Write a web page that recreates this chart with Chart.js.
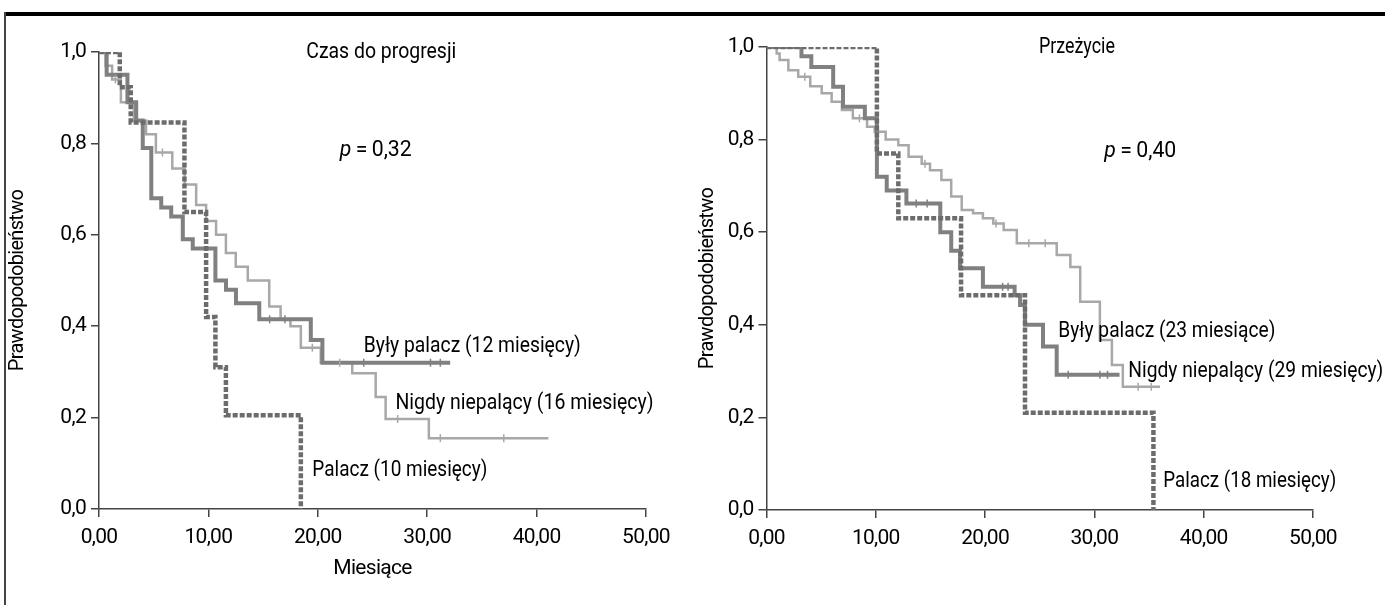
<!DOCTYPE html>
<html>
<head>
<meta charset="utf-8">
<script src="https://cdn.jsdelivr.net/npm/chart.js@4.4.1/dist/chart.umd.min.js"></script>
<style>
  html, body { margin:0; padding:0; background:#fff; }
  body { width:1385px; height:605px; position:relative; overflow:hidden; }
  #topRule { position:absolute; left:5px; top:12px; width:1380px; height:4px; background:#000; }
  #leftRule { position:absolute; left:4px; top:12px; width:2px; height:593px; background:#444; }
  canvas { position:absolute; top:0; }
  #cLeft { left:0; }
  #cRight { left:680px; }
</style>
</head>
<body>
<div id="topRule"></div>
<div id="leftRule"></div>
<canvas id="cLeft" width="692" height="605"></canvas>
<canvas id="cRight" width="705" height="605"></canvas>
<script>
// ---------- DATA ----------
// Left panel: "Czas do progresji" (time to progression), months vs probability
const ttpFormerT = [0, 0.7, 2.6, 3.4, 4.0, 4.78, 5.69, 6.6, 7.66, 8.57, 10.64, 11.61, 12.52, 14.65, 19.36, 20.42, 32.1];
const ttpFormerS = [1.0, 0.95, 0.89, 0.85, 0.79, 0.68, 0.66, 0.64, 0.59, 0.57, 0.50, 0.48, 0.45, 0.415, 0.37, 0.32, 0.32];
const ttpFormerCens = [15.6, 17.0, 24.2, 30.3, 31.2];

const ttpNeverT = [0, 0.6, 1.2, 2.0, 3.2, 4.3, 5.2, 6.7, 7.83, 8.88, 9.79, 10.7, 11.6, 12.5, 13.6, 15.56, 16.6, 17.5, 18.45, 20.27, 23.15, 25.29, 26.2, 30.15, 41.08];
const ttpNeverS = [1.0, 0.97, 0.94, 0.89, 0.85, 0.82, 0.78, 0.745, 0.71, 0.665, 0.63, 0.60, 0.56, 0.53, 0.50, 0.443, 0.415, 0.40, 0.353, 0.32, 0.297, 0.245, 0.197, 0.155, 0.155];
const ttpNeverCens = [1.5, 5.8, 19.5, 22.0, 27.3, 31.2, 37.0];

const ttpSmokerT = [0, 1.9, 2.9, 7.81, 9.79, 10.64, 11.6, 18.45];
const ttpSmokerS = [1.0, 0.923, 0.846, 0.65, 0.42, 0.31, 0.205, 0];

// Right panel: "Przeżycie" (overall survival)
const osFormerT = [0, 3.2, 4.1, 6.1, 7.0, 9.0, 10.1, 11.0, 12.8, 15.9, 16.9, 17.7, 19.8, 22.7, 23.2, 23.65, 25.3, 26.55, 32.3];
const osFormerS = [1.0, 0.98, 0.957, 0.914, 0.871, 0.846, 0.72, 0.69, 0.662, 0.60, 0.56, 0.522, 0.482, 0.464, 0.443, 0.40, 0.353, 0.292, 0.292];
const osFormerCens = [13.7, 14.7, 21.6, 22.1, 27.6, 30.5, 31.2];

const osNeverT = [0, 0.93, 1.2, 2.0, 2.9, 4.0, 5.05, 5.96, 6.9, 7.9, 9.2, 9.9, 10.9, 12.06, 13.0, 14.2, 14.96, 16.0, 16.9, 17.86, 18.9, 19.8, 20.75, 21.7, 22.9, 26.55, 27.8, 28.7, 30.5, 31.6, 32.6, 36.0];
const osNeverS = [1.0, 0.986, 0.972, 0.95, 0.936, 0.915, 0.90, 0.882, 0.864, 0.846, 0.828, 0.817, 0.80, 0.788, 0.763, 0.748, 0.734, 0.713, 0.677, 0.648, 0.641, 0.63, 0.619, 0.605, 0.576, 0.551, 0.525, 0.45, 0.367, 0.313, 0.266, 0.266];
const osNeverCens = [3.5, 8.5, 14.5, 21.0, 24.0, 25.5, 34.0, 35.2];

const osSmokerT = [0, 10.1, 12.06, 17.8, 23.65, 35.4];
const osSmokerS = [1.0, 0.77, 0.63, 0.464, 0.21, 0];

// Tick values
const xTicks = [0, 10, 20, 30, 40, 50];
const yTicks = [0, 0.2, 0.4, 0.6, 0.8, 1.0];

// Texts
const axisTitleY = 'Prawdopodobieństwo';
const axisTitleX = 'Miesiące';
const leftTitle = 'Czas do progresji';
const rightTitle = 'Przeżycie';
const leftP = '0,32';
const rightP = '0,40';
const leftLabels = ['Były palacz (12 miesięcy)', 'Nigdy niepalący (16 miesięcy)', 'Palacz (10 miesięcy)'];
const rightLabels = ['Były palacz (23 miesiące)', 'Nigdy niepalący (29 miesięcy)', 'Palacz (18 miesięcy)'];

// ---------- rendering ----------
const FONT = "Roboto, 'Liberation Sans', 'DejaVu Sans Condensed', sans-serif";
Chart.defaults.font.family = FONT;
Chart.defaults.color = '#000';

const C_FORMER = '#808080';
const C_NEVER = '#a8a8a8';
const C_SMOKER = '#6c6c6c';

function pts(t, s) { return t.map((v, i) => ({ x: v, y: s[i] })); }
function stepAt(t, s, x) { let v = s[0]; for (let i = 0; i < t.length; i++) { if (t[i] <= x) v = s[i]; } return v; }
function cens(tc, t, s) { return tc.map(x => ({ x: x, y: stepAt(t, s, x) })); }

const condensePlugin = {
  id: 'condense',
  beforeDraw(chart) { try { chart.ctx.letterSpacing = '-0.7px'; } catch (e) {} }
};

const textPlugin = {
  id: 'kmText',
  afterDatasetsDraw(chart, args, opts) {
    const ctx = chart.ctx;
    const xs = chart.scales.x, ys = chart.scales.y;
    (opts.items || []).forEach(it => {
      ctx.save();
      try { ctx.letterSpacing = '0px'; } catch (e) {}
      ctx.fillStyle = '#000';
      ctx.textBaseline = 'middle';
      ctx.textAlign = 'left';
      const px = xs.getPixelForValue(it.x), py = ys.getPixelForValue(it.y);
      const fN = it.size + 'px ' + FONT, fI = 'italic ' + it.size + 'px ' + FONT;
      let parts;
      if (it.p) parts = [[fI, 'p'], [fN, '\u2009=\u2009' + it.p]];
      else parts = [[fN, it.text]];
      let wTot = 0;
      parts.forEach(p => { ctx.font = p[0]; p.push(ctx.measureText(p[1]).width); wTot += p[2]; });
      const sx = it.w ? it.w / wTot : 1;
      let x0 = it.align === 'center' ? px - (wTot * sx) / 2 : px;
      ctx.translate(x0, py);
      ctx.scale(sx, 1);
      let cx = 0;
      parts.forEach(p => { ctx.font = p[0]; ctx.fillText(p[1], cx, 0); cx += p[2]; });
      ctx.restore();
    });
  }
};

function makeChart(id, cfg) {
  const lineDs = (label, t, s, color, width, dash, order) => ({
    type: 'line', label, data: pts(t, s), borderColor: color, borderWidth: width,
    borderDash: dash, stepped: 'before', pointRadius: 0, fill: false, order,
    borderCapStyle: 'butt', borderJoinStyle: 'miter'
  });
  const censDs = (data, color) => ({
    type: 'scatter', data, pointStyle: 'line', rotation: 90, pointRadius: 4,
    borderColor: color, borderWidth: 1.5, backgroundColor: color, order: 0
  });
  return new Chart(document.getElementById(id), {
    type: 'line',
    data: {
      datasets: [
        lineDs('Nigdy niepalący', cfg.neverT, cfg.neverS, C_NEVER, 2.5, [], 3),
        lineDs('Były palacz', cfg.formerT, cfg.formerS, C_FORMER, 4, [], 2),
        lineDs('Palacz', cfg.smokerT, cfg.smokerS, C_SMOKER, 4.5, [5, 2], 1),
        censDs(cens(cfg.neverC, cfg.neverT, cfg.neverS), C_NEVER),
        censDs(cens(cfg.formerC, cfg.formerT, cfg.formerS), C_FORMER)
      ]
    },
    options: {
      responsive: false, animation: false, devicePixelRatio: 1,
      layout: { padding: cfg.padding },
      plugins: { legend: { display: false }, tooltip: { enabled: false }, kmText: { items: cfg.texts } },
      scales: {
        x: {
          type: 'linear', min: 0, max: 50,
          afterFit: s => { s.height = cfg.xAxisH; },
          afterBuildTicks: s => { s.ticks = xTicks.map(v => ({ value: v })); },
          ticks: { callback: v => v.toFixed(2).replace('.', ','), font: { size: 21 }, padding: 8, maxRotation: 0, color: '#000' },
          grid: { display: true, drawOnChartArea: false, drawTicks: true, tickLength: 8, color: '#444', lineWidth: 1.5 },
          border: { display: true, color: '#444', width: 1.5 },
          title: cfg.xTitle ? { display: true, text: axisTitleX, font: { size: 21 }, color: '#000', padding: { top: 0, bottom: 24 } } : { display: false }
        },
        y: {
          type: 'linear', min: 0, max: 1,
          afterFit: s => { s.width = cfg.yAxisW; },
          afterBuildTicks: s => { s.ticks = yTicks.map(v => ({ value: v })); },
          ticks: { callback: v => v.toFixed(1).replace('.', ','), font: { size: 21 }, padding: 5, color: '#000' },
          grid: { display: true, drawOnChartArea: false, drawTicks: true, tickLength: 8, color: '#444', lineWidth: 1.5 },
          border: { display: true, color: '#444', width: 1.5 },
          title: { display: true, text: axisTitleY, font: { size: 20 }, color: '#000', padding: { top: cfg.yTitlePad, bottom: 0 } }
        }
      }
    },
    plugins: [condensePlugin, textPlugin]
  });
}

makeChart('cLeft', {
  formerT: ttpFormerT, formerS: ttpFormerS, formerC: ttpFormerCens,
  neverT: ttpNeverT, neverS: ttpNeverS, neverC: ttpNeverCens,
  smokerT: ttpSmokerT, smokerS: ttpSmokerS,
  padding: { top: 52, left: 0, right: 46, bottom: 0 },
  xAxisH: 96, yAxisW: 99, yTitlePad: 6, xTitle: true,
  texts: [
    { text: leftTitle, x: 25.8, y: 1.0, size: 22, w: 150, align: 'center' },
    { p: leftP, x: 25.3, y: 0.785, size: 22, w: 72, align: 'center' },
    { text: leftLabels[0], x: 24.2, y: 0.356, size: 22, w: 217, align: 'left' },
    { text: leftLabels[1], x: 27.1, y: 0.23, size: 22, w: 258, align: 'left' },
    { text: leftLabels[2], x: 19.5, y: 0.085, size: 22, w: 175, align: 'left' }
  ]
});

makeChart('cRight', {
  formerT: osFormerT, formerS: osFormerS, formerC: osFormerCens,
  neverT: osNeverT, neverS: osNeverS, neverC: osNeverCens,
  smokerT: osSmokerT, smokerS: osSmokerS,
  padding: { top: 47, left: 0, right: 72, bottom: 0 },
  xAxisH: 95, yAxisW: 86.5, yTitlePad: 16, xTitle: false,
  texts: [
    { text: rightTitle, x: 28.4, y: 1.0, size: 22, w: 76, align: 'center' },
    { p: rightP, x: 34.2, y: 0.775, size: 22, w: 72, align: 'center' },
    { text: rightLabels[0], x: 26.7, y: 0.385, size: 22, w: 217, align: 'left' },
    { text: rightLabels[1], x: 33.1, y: 0.299, size: 22, w: 255, align: 'left' },
    { text: rightLabels[2], x: 36.3, y: 0.061, size: 22, w: 173, align: 'left' }
  ]
});
</script>
</body>
</html>
